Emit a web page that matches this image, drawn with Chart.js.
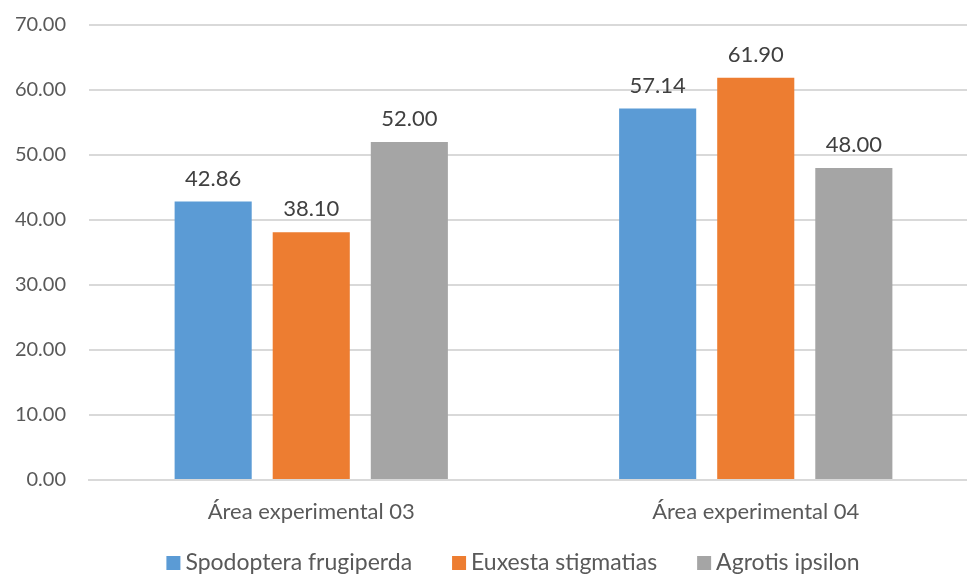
<!DOCTYPE html>
<html>
<head>
<meta charset="utf-8">
<script src="https://cdn.jsdelivr.net/npm/chart.js@4"></script>
<style>
  html, body { margin: 0; padding: 0; background: #fff; overflow: hidden; }
  #wrap { width: 978px; height: 575px; }
</style>
</head>
<body>
<div id="wrap"><canvas id="myChart"></canvas></div>
<script>
var categories = ['Área experimental 03', 'Área experimental 04'];
var spodoptera = [42.86, 57.14];
var euxesta = [38.10, 61.90];
var agrotis = [52.00, 48.00];

var fontFamily = 'Lato, "Open Sans", sans-serif';

// value labels above each bar
var barLabels = {
    id: 'barLabels',
    afterDatasetsDraw: function (chart) {
        var ctx = chart.ctx;
        ctx.save();
        ctx.font = '22px ' + fontFamily;
        ctx.fillStyle = '#404040';
        ctx.textAlign = 'center';
        ctx.textBaseline = 'middle';
        chart.data.datasets.forEach(function (ds, i) {
            chart.getDatasetMeta(i).data.forEach(function (bar, j) {
                ctx.fillText(ds.data[j].toFixed(2), bar.x, bar.y - 23);
            });
        });
        ctx.restore();
    }
};

// legend row under the axis: small square, tight gap, wide spacing between items
var bottomLegend = {
    id: 'bottomLegend',
    afterDraw: function (chart) {
        var ctx = chart.ctx;
        var box = 14, gap = 5, spacing = 40;
        ctx.save();
        ctx.font = '23px ' + fontFamily;
        ctx.textBaseline = 'middle';
        ctx.textAlign = 'left';
        var items = chart.data.datasets.map(function (ds) {
            return { text: ds.label, color: ds.backgroundColor, w: box + gap + ctx.measureText(ds.label).width };
        });
        var total = items.reduce(function (s, it) { return s + it.w; }, 0) + spacing * (items.length - 1);
        var x = 513 - total / 2;
        var y = 563;
        items.forEach(function (it) {
            ctx.fillStyle = it.color;
            ctx.fillRect(x, y - box / 2, box, box);
            ctx.fillStyle = '#595959';
            ctx.fillText(it.text, x + box + gap, y);
            x += it.w + spacing;
        });
        ctx.restore();
    }
};

var ctxBar = document.getElementById('myChart').getContext('2d');
var myChart = new Chart(ctxBar, {
    type: 'bar',
    data: {
        labels: categories,
        datasets: [{
            label: 'Spodoptera frugiperda',
            data: spodoptera,
            backgroundColor: '#5b9bd5'
        }, {
            label: 'Euxesta stigmatias',
            data: euxesta,
            backgroundColor: '#ed7d31'
        }, {
            label: 'Agrotis ipsilon',
            data: agrotis,
            backgroundColor: '#a5a5a5'
        }]
    },
    plugins: [barLabels, bottomLegend],
    options: {
        responsive: true,
        maintainAspectRatio: false,
        animation: false,
        layout: { padding: { top: 25, left: 0, right: 0, bottom: 45 } },
        datasets: {
            bar: { categoryPercentage: 0.662, barPercentage: 0.786 }
        },
        scales: {
            x: {
                grid: { display: false },
                border: { color: '#d9d9d9', width: 2 },
                ticks: {
                    color: '#595959',
                    font: { family: fontFamily, size: 22 },
                    padding: 11
                },
                afterFit: function (scale) {
                    scale.height = 50;
                    scale.paddingLeft = 0;
                    scale.paddingRight = 0;
                }
            },
            y: {
                min: 0,
                max: 70,
                grid: { color: '#d9d9d9', lineWidth: 2, drawTicks: false },
                border: { display: false },
                ticks: {
                    stepSize: 10,
                    color: '#595959',
                    font: { family: fontFamily, size: 20 },
                    padding: 23,
                    callback: function (v) { return v.toFixed(2); }
                },
                afterFit: function (scale) {
                    scale.width = 89;
                    scale.paddingTop = 0;
                    scale.paddingBottom = 0;
                }
            }
        },
        plugins: {
            tooltip: { enabled: false },
            legend: { display: false }
        }
    }
});
</script>
</body>
</html>
